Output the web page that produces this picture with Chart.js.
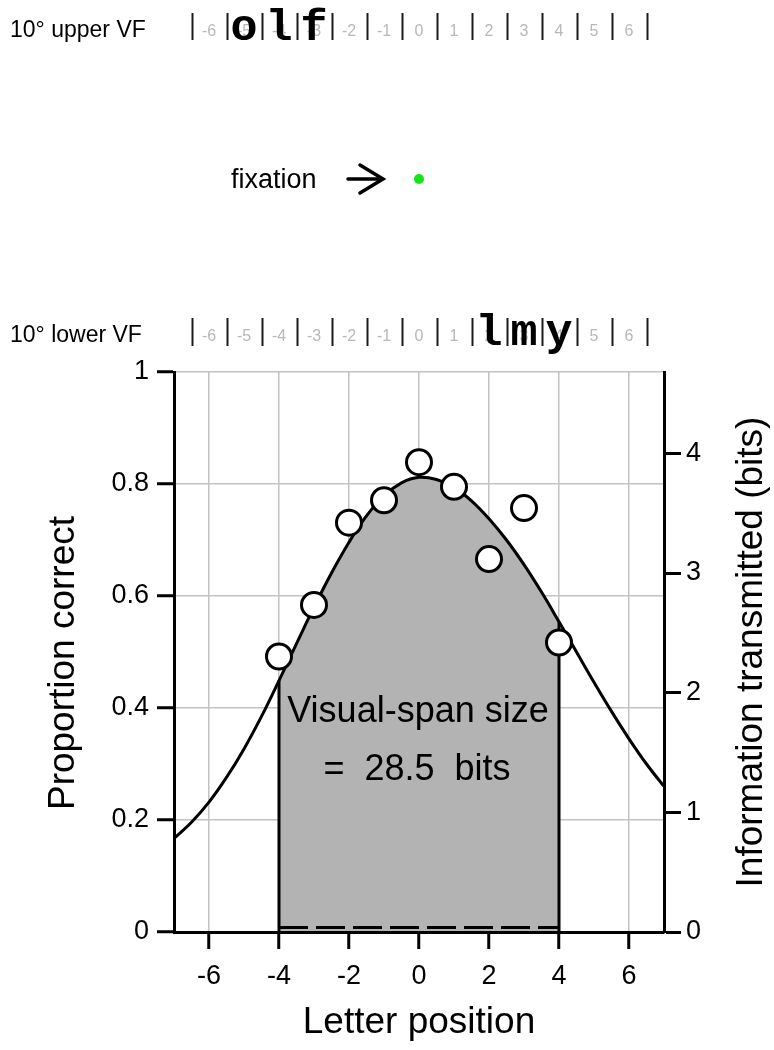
<!DOCTYPE html>
<html>
<head>
<meta charset="utf-8">
<script src="https://cdn.jsdelivr.net/npm/chart.js@4.4.0/dist/chart.umd.min.js"></script>
<style>
html,body{margin:0;padding:0;background:#fff;}
canvas{display:block;}
</style>
</head>
<body>
<canvas id="c" width="774" height="1050"></canvas>
<script>
// ---------- data ----------
const letterPositions   = [-4, -3, -2, -1, 0, 1, 2, 3, 4];
const proportionCorrect = [0.492, 0.584, 0.731, 0.771, 0.839, 0.795, 0.666, 0.757, 0.517];

const fitX = [-7, -6.5, -6, -5.5, -5, -4.5, -4, -3.5, -3, -2.5, -2, -1.5, -1, -0.5, 0,
              0.5, 1, 1.5, 2, 2.5, 3, 3.5, 4, 4.5, 5, 5.5, 6, 6.5, 7];
const fitY = [0.167, 0.196, 0.232, 0.276, 0.327, 0.385, 0.449, 0.515, 0.580, 0.641, 0.696, 0.743, 0.779, 0.802, 0.812,
              0.808, 0.794, 0.770, 0.738, 0.700, 0.656, 0.607, 0.554, 0.500, 0.446, 0.394, 0.345, 0.300, 0.260];

const spanEdges     = [-4, 4];
const baselineLevel = 0.008;

const xTicks   = [-6, -4, -2, 0, 2, 4, 6];
const yTicks   = [0, 0.2, 0.4, 0.6, 0.8, 1];
const bitTicks = [0, 1, 2, 3, 4];
const bitsMax  = 4.68;

const rulerSlots   = [-6, -5, -4, -3, -2, -1, 0, 1, 2, 3, 4, 5, 6];
const upperLetters = ['o', 'l', 'f'];
const upperSlots   = [-5, -4, -3];
const lowerLetters = ['l', 'm', 'y'];
const lowerSlots   = [2, 3, 4];
const fixationPos  = 0;
const spanLines    = ['Visual-span size', '=  28.5  bits'];
const titles = { x: 'Letter position', y: 'Proportion correct', y2: 'Information transmitted (bits)' };
const rowLabels = { upper: '10\u00B0 upper VF', lower: '10\u00B0 lower VF' };

// ---------- layout constants ----------
const W = 774, H = 1050;
const PLOT_TOP = 372, PLOT_BOTTOM = 932, PLOT_LEFT = 174, PLOT_RIGHT = 664;
const FONT = "'Liberation Sans', Arial, Helvetica, sans-serif";
const MONO = "'Liberation Mono', 'Courier New', monospace";
const GRID = '#c2c2c2';

// derived datasets
const fitPts  = fitX.map((x, i) => ({x, y: fitY[i]}));
const spanPts = fitPts.filter(p => p.x >= spanEdges[0] && p.x <= spanEdges[1]);
const obsPts  = letterPositions.map((x, i) => ({x, y: proportionCorrect[i]}));
const edgeY   = v => fitY[fitX.indexOf(v)];

function drawText(ctx, s, x, y, font, color, align, baseline, rot) {
  ctx.save();
  ctx.font = font;
  ctx.fillStyle = color;
  ctx.textAlign = align || 'left';
  ctx.textBaseline = baseline || 'alphabetic';
  ctx.translate(x, y);
  if (rot) ctx.rotate(rot);
  ctx.fillText(s, 0, 0);
  ctx.restore();
}

const decor = {
  id: 'decor',
  afterDraw(chart) {
    const ctx = chart.ctx;
    const xs = chart.scales.x;
    const px = v => xs.getPixelForValue(v);

    function ruler(top, bottom, numBase, labelBase, label, letters, slots, letterBase) {
      drawText(ctx, label, 10, labelBase, '23px ' + FONT, '#000', 'left');
      ctx.save();
      ctx.strokeStyle = '#1a1a1a';
      ctx.lineWidth = 2;
      const edges = rulerSlots.map(v => v - 0.5).concat([rulerSlots[rulerSlots.length - 1] + 0.5]);
      edges.forEach(v => {
        const x = Math.round(px(v)) + 0.5;
        ctx.beginPath(); ctx.moveTo(x, top); ctx.lineTo(x, bottom); ctx.stroke();
      });
      ctx.restore();
      rulerSlots.forEach(v => drawText(ctx, String(v), px(v), numBase, '16px ' + FONT, '#b8b8b8', 'center'));
      letters.forEach((ch, i) => drawText(ctx, ch, px(slots[i]), letterBase, 'bold 45px ' + MONO, '#000', 'center'));
    }
    ruler(13, 40, 36, 37, rowLabels.upper, upperLetters, upperSlots, 40);
    ruler(318, 346, 341, 342, rowLabels.lower, lowerLetters, lowerSlots, 345);

    // fixation
    drawText(ctx, 'fixation', 231, 188, '27px ' + FONT, '#000', 'left');
    ctx.save();
    ctx.strokeStyle = '#000';
    ctx.lineWidth = 3.5;
    ctx.lineCap = 'round';
    ctx.beginPath(); ctx.moveTo(348, 179); ctx.lineTo(382, 179); ctx.stroke();
    ctx.beginPath(); ctx.moveTo(360, 165); ctx.lineTo(383, 179); ctx.lineTo(360, 193); ctx.stroke();
    ctx.fillStyle = '#14e614';
    ctx.beginPath(); ctx.arc(px(fixationPos), 179, 5, 0, Math.PI * 2); ctx.fill();
    ctx.restore();

    // span annotation
    drawText(ctx, spanLines[0], px(0) - 1, 722, '36px ' + FONT, '#000', 'center');
    drawText(ctx, spanLines[1], px(0) - 2, 780, '36px ' + FONT, '#000', 'center');

    // axis titles
    drawText(ctx, titles.y, 74, 663, '37px ' + FONT, '#000', 'center', 'alphabetic', -Math.PI / 2);
    drawText(ctx, titles.y2, 762, 652, '37px ' + FONT, '#000', 'center', 'alphabetic', -Math.PI / 2);
    drawText(ctx, titles.x, (PLOT_LEFT + PLOT_RIGHT) / 2, 1033, '37px ' + FONT, '#000', 'center');
  }
};

const tickFont = {family: FONT, size: 27};

new Chart(document.getElementById('c'), {
  type: 'scatter',
  data: {
    datasets: [
      { type: 'scatter', data: obsPts, order: 1,
        pointRadius: 12.5, pointHoverRadius: 12.5,
        pointBackgroundColor: '#fff', pointBorderColor: '#000', pointBorderWidth: 3 },
      { type: 'line', data: fitPts, order: 2, borderColor: '#000', borderWidth: 3,
        pointRadius: 0, fill: false, tension: 0.4 },
      { type: 'line', data: [{x: spanEdges[0], y: 0}, {x: spanEdges[0], y: edgeY(spanEdges[0])}], order: 3,
        borderColor: '#000', borderWidth: 3, pointRadius: 0, fill: false },
      { type: 'line', data: [{x: spanEdges[1], y: 0}, {x: spanEdges[1], y: edgeY(spanEdges[1])}], order: 3,
        borderColor: '#000', borderWidth: 3, pointRadius: 0, fill: false },
      { type: 'line', data: [{x: spanEdges[0], y: baselineLevel}, {x: spanEdges[1], y: baselineLevel}], order: 4,
        borderColor: '#000', borderWidth: 3, borderDash: [29, 8], pointRadius: 0, fill: false },
      { type: 'line', data: spanPts, order: 5, borderWidth: 0, borderColor: 'rgba(0,0,0,0)',
        backgroundColor: '#b3b3b3', pointRadius: 0, fill: 'origin', tension: 0.4 }
    ]
  },
  options: {
    responsive: false,
    animation: false,
    devicePixelRatio: 1,
    events: [],
    layout: { padding: { top: PLOT_TOP, left: 0, right: 0, bottom: 0 } },
    plugins: { legend: { display: false }, tooltip: { enabled: false }, title: { display: false } },
    scales: {
      x: {
        type: 'linear', position: 'bottom', min: -7, max: 7,
        afterBuildTicks: s => { s.ticks = xTicks.map(v => ({value: v})); },
        afterFit: s => { s.height = H - PLOT_BOTTOM; },
        grid: { color: GRID, lineWidth: 1.5, tickLength: 17, tickColor: '#000', tickWidth: 3 },
        border: { color: '#000', width: 3, z: 1 },
        ticks: { color: '#000', font: tickFont, padding: 11, maxRotation: 0, autoSkip: false,
                 callback: v => String(v) }
      },
      y: {
        type: 'linear', position: 'left', min: 0, max: 1,
        afterBuildTicks: s => { s.ticks = yTicks.map(v => ({value: v})); },
        afterFit: s => { s.width = PLOT_LEFT; },
        grid: { color: GRID, lineWidth: 1.5, tickLength: 17, tickColor: '#000', tickWidth: 3 },
        border: { color: '#000', width: 3, z: 1 },
        ticks: { color: '#000', font: tickFont, padding: 8, autoSkip: false, callback: v => String(v) }
      },
      y2: {
        type: 'linear', position: 'right', min: 0, max: bitsMax,
        afterBuildTicks: s => { s.ticks = bitTicks.map(v => ({value: v})); },
        afterFit: s => { s.width = W - PLOT_RIGHT; },
        grid: { drawOnChartArea: false, tickLength: 17, tickColor: '#000', tickWidth: 3 },
        border: { color: '#000', width: 3, z: 1 },
        ticks: { color: '#000', font: tickFont, padding: 5, autoSkip: false, callback: v => String(v) }
      }
    }
  },
  plugins: [decor]
});
</script>
</body>
</html>
